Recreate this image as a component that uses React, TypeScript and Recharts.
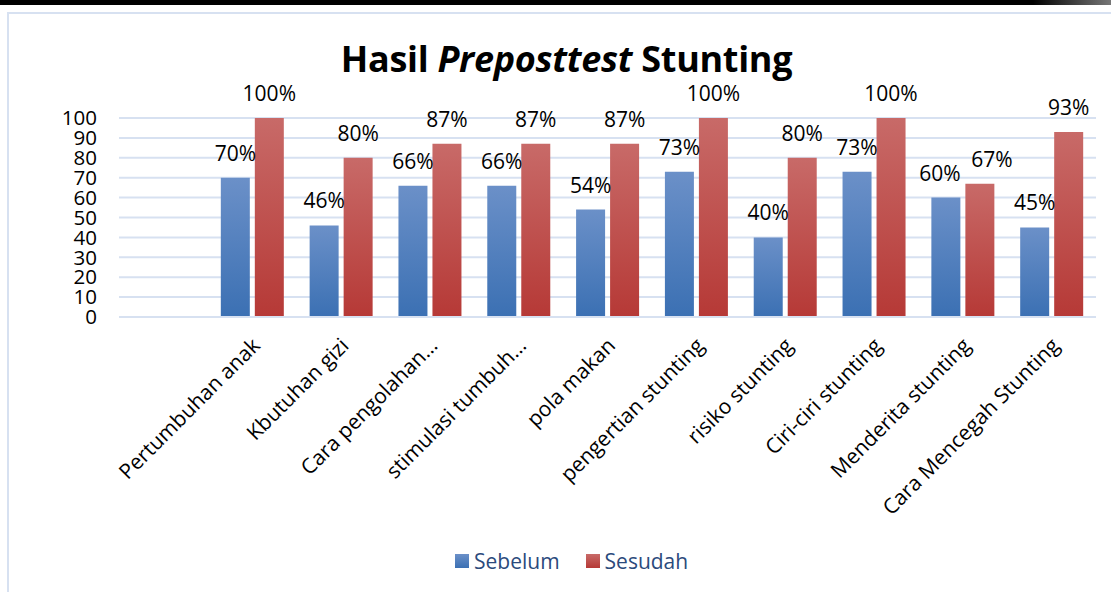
import React from 'react';
import { BarChart, Bar, XAxis, YAxis, CartesianGrid, LabelList } from 'recharts';

const categories = [
  '',
  'Pertumbuhan anak',
  'Kbutuhan gizi',
  'Cara pengolahan…',
  'stimulasi tumbuh…',
  'pola makan',
  'pengertian stunting',
  'risiko stunting',
  'Ciri-ciri stunting',
  'Menderita stunting',
  'Cara Mencegah Stunting',
];
const sebelum = [null, 70, 46, 66, 66, 54, 73, 40, 73, 60, 45];
const sesudah = [null, 100, 80, 87, 87, 87, 100, 80, 100, 67, 93];
const yTicks = [0, 10, 20, 30, 40, 50, 60, 70, 80, 90, 100];

const data = categories.map((name, i) => ({ name, sebelum: sebelum[i], sesudah: sesudah[i] }));

const FONT = '"Open Sans", "Noto Sans", sans-serif';
const GRID = '#D7E1F1';

const CategoryTick = (props: any) => {
  const { x, y, payload } = props;
  return (
    <g transform={`translate(${x + 9},${y + 22})`}>
      <text textAnchor="end" transform="rotate(-45)" fontSize={21} fontFamily={FONT} fill="#000">
        {payload.value}
      </text>
    </g>
  );
};

// labels of the two bars in a group collide when the values are close; push them apart like Excel does
const makeLabel = (ownKey: 'sebelum' | 'sesudah', otherKey: 'sebelum' | 'sesudah', shift: number) => (props: any) => {
  const { x, y, width, value } = props;
  if (value == null || typeof value !== 'object') return null;
  const own = value[ownKey];
  const other = value[otherKey];
  if (own == null) return null;
  const dx = other != null && Math.abs(own - other) < 12 ? shift : 0;
  return (
    <text x={x + width / 2 + dx} y={y - 17} textAnchor="middle" fontSize={21} fontFamily={FONT} fill="#000">
      {`${own}%`}
    </text>
  );
};

const rowOf = (entry: any) => entry.payload;

const App: React.FC = () => {
  return (
    <div style={{ position: 'absolute', left: 0, top: 0, width: 1111, height: 592, overflow: 'hidden', background: '#fff', fontFamily: FONT }}>
      <div style={{ position: 'absolute', left: 0, top: 0, width: 1111, height: 5, background: 'linear-gradient(to right, #000 0%, #000 93%, #777 100%)' }} />
      <div style={{ position: 'absolute', left: 7, top: 12, width: 1130, height: 620, border: `2px solid ${GRID}`, boxSizing: 'border-box' }} />
      <div style={{ position: 'absolute', left: 0, top: 34, width: 1133, textAlign: 'center', fontSize: 36, fontWeight: 'bold', color: '#000', lineHeight: '50px', letterSpacing: -0.3 }}>
        Hasil <i>Preposttest</i> Stunting
      </div>
      <div style={{ position: 'absolute', left: 0, top: 0 }}>
        <BarChart
          width={1111}
          height={592}
          data={data}
          margin={{ top: 118, right: 15, left: 0, bottom: 0 }}
          barGap={5}
          barSize={29}
        >
          <defs>
            <linearGradient id="gradBlue" x1="0" y1="0" x2="0" y2="1">
              <stop offset="0%" stopColor="#6B90C8" />
              <stop offset="100%" stopColor="#3B70B3" />
            </linearGradient>
            <linearGradient id="gradRed" x1="0" y1="0" x2="0" y2="1">
              <stop offset="0%" stopColor="#C86A68" />
              <stop offset="100%" stopColor="#B63936" />
            </linearGradient>
          </defs>
          <CartesianGrid vertical={false} stroke={GRID} strokeWidth={2} />
          <XAxis
            dataKey="name"
            height={275}
            interval={0}
            axisLine={{ stroke: GRID, strokeWidth: 2 }}
            tickLine={false}
            tick={<CategoryTick />}
          />
          <YAxis
            width={119}
            domain={[0, 100]}
            ticks={yTicks}
            interval={0}
            axisLine={false}
            tickLine={false}
            tickSize={0}
            tickMargin={22}
            tick={{ fontSize: 20.5, fill: '#000', fontFamily: FONT }}
          />
          <Bar dataKey="sebelum" fill="url(#gradBlue)" isAnimationActive={false}>
            <LabelList valueAccessor={rowOf} content={makeLabel('sebelum', 'sesudah', -6)} />
          </Bar>
          <Bar dataKey="sesudah" fill="url(#gradRed)" isAnimationActive={false}>
            <LabelList valueAccessor={rowOf} content={makeLabel('sesudah', 'sebelum', 12)} />
          </Bar>
        </BarChart>
      </div>
      <div style={{ position: 'absolute', left: 455, top: 547, display: 'flex', alignItems: 'center', fontSize: 21, color: '#2B4A7C', whiteSpace: 'nowrap' }}>
        <span style={{ display: 'inline-block', width: 14, height: 14, background: 'linear-gradient(#6B90C8, #3B70B3)', marginRight: 5 }} />
        <span style={{ marginRight: 26 }}>Sebelum</span>
        <span style={{ display: 'inline-block', width: 14, height: 14, background: 'linear-gradient(#C86A68, #B63936)', marginRight: 5 }} />
        <span>Sesudah</span>
      </div>
    </div>
  );
};

export default App;
